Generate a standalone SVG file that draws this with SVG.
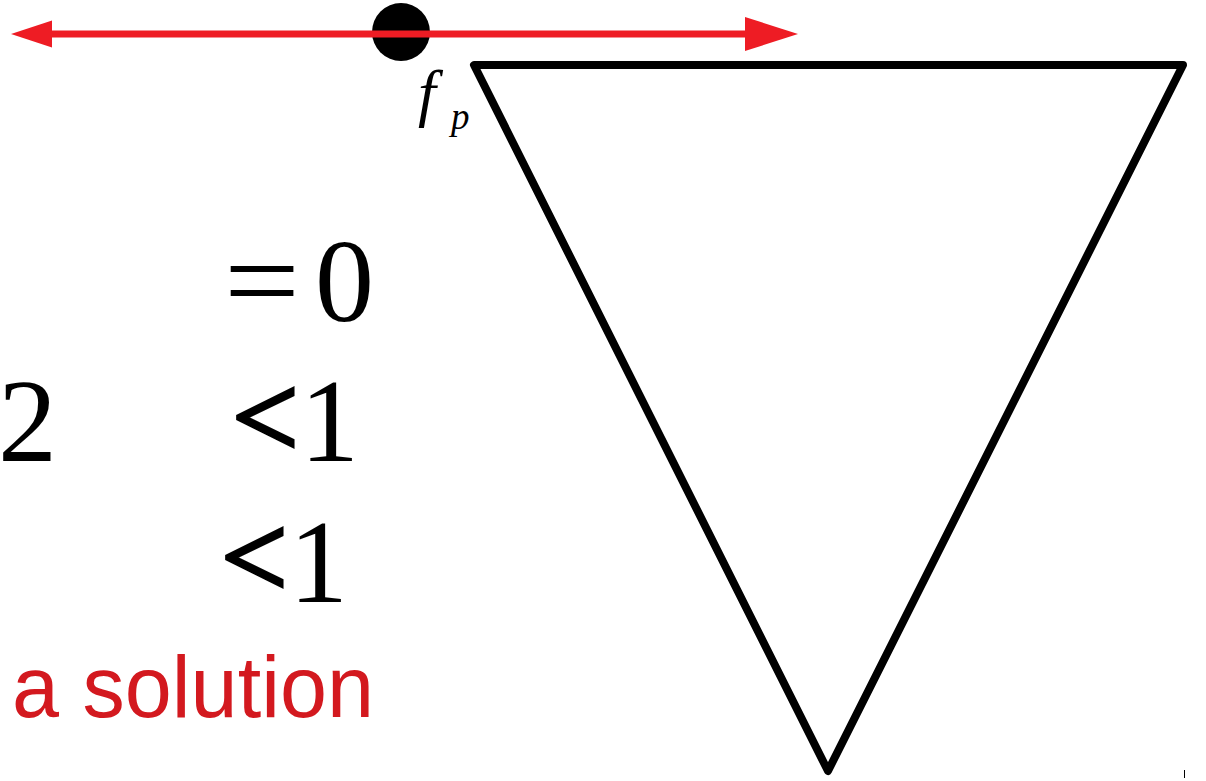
<svg xmlns="http://www.w3.org/2000/svg" width="1206" height="781" viewBox="0 0 1206 781">
<style>
.math{font-family:"Liberation Serif","Times New Roman",serif;fill:#000}
.it{font-style:italic}
.lt{stroke:#000;stroke-width:3.5;stroke-linejoin:miter}
.red{font-family:"Liberation Sans",Arial,sans-serif;fill:#d3191f}
</style>
<rect width="1206" height="781" fill="#fff"/>
<g id="point">
<circle cx="401" cy="32" r="29" fill="#000"/>
</g>
<g id="connectors">
<line x1="45" y1="34" x2="750" y2="34" stroke="#ee1c24" stroke-width="7"/>
<polygon points="11,34 52,20.5 52,47.5" fill="#ee1c24"/>
<polygon points="798,34 745,17 745,51" fill="#ee1c24"/>
</g>
<g id="triangle">
<polygon points="474,65 1183,65 828,771" fill="none" stroke="#000" stroke-width="8" stroke-linejoin="round"/>
</g>
<g id="labels">
<text class="math it" x="418" y="114" font-size="64">f</text>
<text class="math it" x="451" y="129" font-size="37">p</text>
<text class="math" x="224" y="321" font-size="118" textLength="76" lengthAdjust="spacingAndGlyphs">=</text>
<text class="math" x="315" y="321" font-size="118">0</text>
<text class="math" x="-2" y="461" font-size="118">2</text>
<text class="math lt" x="232" y="457" font-size="118">&lt;</text>
<text class="math" x="300" y="461" font-size="118">1</text>
<text class="math lt" x="221" y="597" font-size="118">&lt;</text>
<text class="math" x="289" y="602" font-size="118">1</text>
<text class="red" x="12" y="717" font-size="87" textLength="362" lengthAdjust="spacingAndGlyphs">a solution</text>
</g>
<line x1="1184.5" y1="770" x2="1184.5" y2="778" stroke="#000" stroke-width="1"/>
</svg>
